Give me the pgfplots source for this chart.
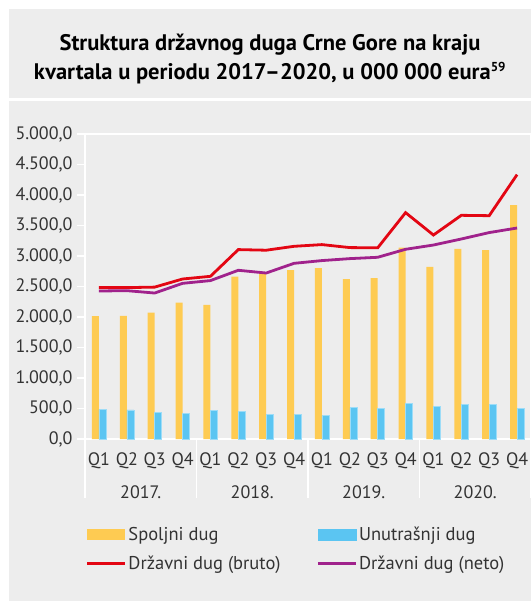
\documentclass[border=0pt]{standalone}
\usepackage{fontspec}
\setmainfont{PT Sans}
\usepackage{pgfplots}
\pgfplotsset{compat=1.18}
\definecolor{bg}{HTML}{EDEDED}
\definecolor{spolj}{HTML}{FECB52}
\definecolor{unutr}{HTML}{5BC5F2}
\definecolor{bruto}{HTML}{E30613}
\definecolor{neto}{HTML}{A0228C}
\definecolor{txt}{HTML}{333333}

\begin{document}
\begin{tikzpicture}
\fill[white] (0pt,0pt) rectangle (531pt,-601pt);
\fill[bg] (9pt,-9pt) rectangle (531pt,-98pt);
\fill[bg] (9pt,-101pt) rectangle (531pt,-601pt);
\node[font=\bfseries\fontsize{22.5}{29}\selectfont, align=center, text=black]
  at (270pt,-59pt) {Struktura državnog duga Crne Gore na kraju\\kvartala u periodu 2017--2020, u 000 000 eura\textsuperscript{\fontsize{13}{13}\selectfont 59}};

\begin{axis}[
  at={(85pt,-439pt)}, anchor=south west,
  scale only axis, width=446pt, height=305pt,
  xmin=-0.5, xmax=15.5, ymin=0, ymax=5000,
  clip=false,
  axis line style={white, line width=1.5pt},
  ytick={0,500,...,5000},
  yticklabel style={xshift=-1pt, /pgf/number format/.cd, fixed, fixed zerofill, precision=1,
    use comma, 1000 sep={.}, assume math mode=true},
  tick label style={font=\fontsize{18}{20}\selectfont, text=txt},
  ytick style={white, line width=1.5pt},
  tick align=outside, major tick length=8pt,
  xtick={0,...,15},
  xticklabels={Q1,Q2,Q3,Q4,Q1,Q2,Q3,Q4,Q1,Q2,Q3,Q4,Q1,Q2,Q3,Q4},
  xtick style={draw=none},
  xticklabel style={yshift=-2pt},
  legend columns=2,
  legend cell align=left,
  legend style={draw=none, fill=none, at={(-0.005,-0.275)}, anchor=north west,
    font=\fontsize{18.5}{20}\selectfont, text=txt, row sep=10pt,
    /tikz/every even column/.append style={column sep=34pt}},
]
\addplot[ybar, bar width=7pt, bar shift=-3.5pt, fill=spolj, draw=none,
  legend image code/.code={\fill[spolj] (0pt,-5.5pt) rectangle (38pt,5.5pt);}]
coordinates {
  (0,2016) (1,2018) (2,2070) (3,2235) (4,2197) (5,2661) (6,2716) (7,2770)
  (8,2803) (9,2623) (10,2639) (11,3136) (12,2820) (13,3115) (14,3098) (15,3836)
};
\addlegendentry{Spoljni dug}
\addplot[ybar, bar width=7pt, bar shift=3.5pt, fill=unutr, draw=unutr!60, line width=0.4pt,
  legend image code/.code={\fill[unutr] (0pt,-5.5pt) rectangle (38pt,5.5pt);}]
coordinates {
  (0,482) (1,476) (2,438) (3,416) (4,470) (5,459) (6,400) (7,400)
  (8,383) (9,514) (10,503) (11,580) (12,536) (13,563) (14,569) (15,498)
};
\addlegendentry{Unutrašnji dug}
\addplot[bruto, line width=2.8pt,
  legend image code/.code={\draw[bruto, line width=2.5pt] (0pt,0pt) -- (38pt,0pt);}]
coordinates {
  (0,2482) (1,2482) (2,2490) (3,2623) (4,2667) (5,3105) (6,3095) (7,3159)
  (8,3187) (9,3138) (10,3134) (11,3711) (12,3344) (13,3667) (14,3661) (15,4334)
};
\addlegendentry{Državni dug (bruto)}
\addplot[neto, line width=2.8pt,
  legend image code/.code={\draw[neto, line width=2.5pt] (0pt,0pt) -- (38pt,0pt);}]
coordinates {
  (0,2426) (1,2432) (2,2393) (3,2552) (4,2597) (5,2766) (6,2721) (7,2880)
  (8,2925) (9,2957) (10,2979) (11,3110) (12,3180) (13,3279) (14,3384) (15,3459)
};
\addlegendentry{Državni dug (neto)}

\foreach \s in {-0.5,3.5,7.5,11.5,15.5} {
  \edef\tmp{\noexpand\draw[white, line width=1.5pt] (axis cs:\s,0) -- ++(0pt,-59pt);}
  \tmp
}
\node[font=\fontsize{18}{20}\selectfont, text=txt] at ([yshift=-53pt]axis cs:1.5,0) {2017.};
\node[font=\fontsize{18}{20}\selectfont, text=txt] at ([yshift=-53pt]axis cs:5.5,0) {2018.};
\node[font=\fontsize{18}{20}\selectfont, text=txt] at ([yshift=-53pt]axis cs:9.5,0) {2019.};
\node[font=\fontsize{18}{20}\selectfont, text=txt] at ([yshift=-53pt]axis cs:13.5,0) {2020.};
\end{axis}
\pgfresetboundingbox
\path[use as bounding box] (0pt,0pt) rectangle (531pt,-601pt);
\end{tikzpicture}
\end{document}
